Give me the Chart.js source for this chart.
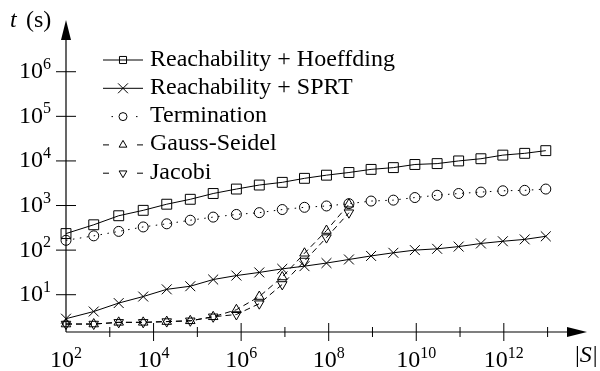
<!DOCTYPE html>
<html>
<head>
<meta charset="utf-8">
<script src="https://cdn.jsdelivr.net/npm/chart.js@4.4.1/dist/chart.umd.min.js"></script>
<style>
    html, body { margin: 0; padding: 0; background: #fff; }
    #wrap { width: 600px; height: 371px; position: relative; }
</style>
</head>
<body>
<div id="wrap"><canvas id="timeChart"></canvas></div>
<script>
// |S| : taille de l'espace d'etats (axe x), temps en secondes (axe y)
const stateSizes = [1.0e2, 4.3e2, 1.6e3, 5.8e3, 2.0e4, 6.9e4, 2.3e5, 7.8e5, 2.6e6, 8.7e6, 2.8e7,
    8.9e7, 2.9e8, 9.3e8, 3.0e9, 9.3e9, 3.0e10, 9.3e10, 3.0e11, 9.5e11, 3.0e12, 9.1e12];
const hoeffdingTimes = [235, 370, 590, 780, 1070, 1380, 1860, 2340, 2880, 3310, 4070,
    4790, 5500, 6460, 7080, 8320, 8710, 10000, 11200, 13500, 14800, 17000];
const sprtTimes = [2.9, 4.2, 6.5, 9.1, 13.2, 15.5, 21.9, 26.9, 31.6, 38.0, 43.7,
    51.3, 61.7, 74.1, 87.1, 100, 107, 120, 141, 158, 174, 204];
const terminationTimes = [166, 209, 263, 331, 389, 468, 550, 631, 692, 813, 912,
    977, 1100, 1260, 1320, 1510, 1700, 1860, 2000, 2140, 2190, 2340];
const gaussSeidelTimes = [2.2, 2.2, 2.4, 2.4, 2.5, 2.6, 3.2, 4.6, 9.1, 25, 85, 275, 1070];
const jacobiTimes = [2.2, 2.2, 2.4, 2.4, 2.5, 2.6, 3.2, 3.6, 6.3, 17, 57, 191, 690];
const seriesNames = ['Reachability + Hoeffding', 'Reachability + SPRT', 'Termination', 'Gauss-Seidel', 'Jacobi'];
const yTickExponents = [1, 2, 3, 4, 5, 6];
const xTickExponents = [2, 4, 6, 8, 10, 12];
const xMinorExponents = [3, 5, 7, 9, 11, 13];

const SERIF = '"Liberation Serif"';
const BASE_FONT = '24px ' + SERIF;
const EXP_FONT = '16px ' + SERIF;

function points(times) {
    return times.map((t, i) => ({ x: stateSizes[i], y: t }));
}

function serie(label, times, style, radius, dash, rotation) {
    return {
        label: label,
        data: points(times),
        borderColor: '#000',
        borderWidth: 1,
        borderDash: dash,
        tension: 0,
        pointStyle: style,
        pointRadius: radius,
        pointRotation: rotation || 0,
        pointBorderColor: '#000',
        pointBorderWidth: 1,
        pointBackgroundColor: 'rgba(0,0,0,0)',
        clip: false
    };
}

// petite legende dessinee a la main : trait + symbole + texte
const legendDash = [[], [], [1.5, 23], [6, 28], [6, 28]];
const legendDashStart = [103, 103, 111.5, 103, 103];
const legendRadius = [5, 7, 4, 4.5, 4.5];

function drawPower(ctx, exp, x, baseline, align) {
    ctx.font = BASE_FONT;
    const wb = ctx.measureText('10').width;
    ctx.font = EXP_FONT;
    const we = ctx.measureText(String(exp)).width;
    const start = align === 'center' ? x - (wb + we) / 2 : x - (wb + we);
    ctx.textAlign = 'left';
    ctx.font = BASE_FONT;
    ctx.fillText('10', start, baseline);
    ctx.font = EXP_FONT;
    ctx.fillText(String(exp), start + wb, baseline - 9.5);
}

const axesPlugin = {
    id: 'axesArrows',
    afterDatasetsDraw(chart) {
        const ctx = chart.ctx;
        const area = chart.chartArea;
        const xs = chart.scales.x;
        const ys = chart.scales.y;
        const x0 = xs.getPixelForValue(1e2);
        const y0 = area.bottom;
        ctx.save();
        ctx.strokeStyle = '#000';
        ctx.fillStyle = '#000';
        ctx.lineWidth = 1.2;

        // axe y + fleche
        ctx.beginPath();
        ctx.moveTo(x0, y0);
        ctx.lineTo(x0, area.top + 18);
        ctx.stroke();
        ctx.beginPath();
        ctx.moveTo(x0, area.top);
        ctx.lineTo(x0 - 5, area.top + 20);
        ctx.lineTo(x0 + 5, area.top + 20);
        ctx.closePath();
        ctx.fill();

        // axe x + fleche
        ctx.beginPath();
        ctx.moveTo(x0, y0);
        ctx.lineTo(area.right - 18, y0);
        ctx.stroke();
        ctx.beginPath();
        ctx.moveTo(area.right, y0);
        ctx.lineTo(area.right - 20, y0 - 5);
        ctx.lineTo(area.right - 20, y0 + 5);
        ctx.closePath();
        ctx.fill();

        // graduations y
        ctx.lineWidth = 1;
        ctx.textBaseline = 'alphabetic';
        yTickExponents.forEach(k => {
            const y = ys.getPixelForValue(Math.pow(10, k));
            ctx.beginPath();
            ctx.moveTo(x0 - 10, y);
            ctx.lineTo(x0 + 10, y);
            ctx.stroke();
            drawPower(ctx, k, x0 - 15, y + 6.5, 'right');
        });

        // graduations x
        xTickExponents.forEach(k => {
            const x = xs.getPixelForValue(Math.pow(10, k));
            if (k > 2) {
                ctx.beginPath();
                ctx.moveTo(x, y0 - 9);
                ctx.lineTo(x, y0 + 9);
                ctx.stroke();
            }
            drawPower(ctx, k, x, y0 + 35, 'center');
        });
        xMinorExponents.forEach(k => {
            const x = xs.getPixelForValue(Math.pow(10, k));
            ctx.beginPath();
            ctx.moveTo(x, y0 - 5);
            ctx.lineTo(x, y0 + 5);
            ctx.stroke();
        });

        // titres des axes
        ctx.textAlign = 'left';
        ctx.font = 'italic 24px ' + SERIF;
        ctx.fillText('t', 10, 26.5);
        ctx.font = '24px ' + SERIF;
        ctx.fillText('(s)', 26, 26.5);

        let sx = 575;
        ctx.font = '24px ' + SERIF;
        ctx.fillText('|', sx, 362);
        sx += ctx.measureText('|').width;
        ctx.font = 'italic 24px ' + SERIF;
        ctx.fillText('S', sx, 362);
        sx += ctx.measureText('S').width + 1;
        ctx.font = '24px ' + SERIF;
        ctx.fillText('|', sx, 362);

        // legende
        chart.data.datasets.forEach((ds, i) => {
            const y = 60 + i * 28.3;
            ctx.save();
            ctx.lineWidth = 1;
            ctx.setLineDash(legendDash[i]);
            ctx.beginPath();
            ctx.moveTo(legendDashStart[i], y);
            ctx.lineTo(143, y);
            ctx.stroke();
            ctx.restore();
            ctx.fillStyle = 'rgba(0,0,0,0)';
            Chart.helpers.drawPoint(ctx, {
                pointStyle: ds.pointStyle,
                rotation: ds.pointRotation,
                radius: legendRadius[i],
                borderWidth: 1
            }, 123, y);
            ctx.fillStyle = '#000';
            ctx.font = '24px ' + SERIF;
            ctx.fillText(ds.label, 150, y + 5.5);
        });
        ctx.restore();
    }
};

document.addEventListener('DOMContentLoaded', function() {
    const ctx = document.getElementById('timeChart').getContext('2d');
    new Chart(ctx, {
        type: 'line',
        data: {
            datasets: [
                serie(seriesNames[0], hoeffdingTimes, 'rect', 7, []),
                serie(seriesNames[1], sprtTimes, 'crossRot', 7, []),
                serie(seriesNames[2], terminationTimes, 'circle', 5, [1.5, 5.5]),
                serie(seriesNames[3], gaussSeidelTimes, 'triangle', 5.5, [6, 4]),
                serie(seriesNames[4], jacobiTimes, 'triangle', 5.5, [6, 4], 180)
            ]
        },
        options: {
            responsive: true,
            maintainAspectRatio: false,
            animation: false,
            events: [],
            layout: {
                padding: { left: 66, right: 13, top: 20, bottom: 39 }
            },
            plugins: {
                legend: { display: false },
                tooltip: { enabled: false }
            },
            scales: {
                x: {
                    type: 'logarithmic',
                    display: false,
                    min: 1e2,
                    max: Math.pow(10, 13.9)
                },
                y: {
                    type: 'logarithmic',
                    display: false,
                    min: Math.pow(10, 0.164),
                    max: Math.pow(10, 7.16)
                }
            }
        },
        plugins: [axesPlugin]
    });
});
</script>
</body>
</html>
